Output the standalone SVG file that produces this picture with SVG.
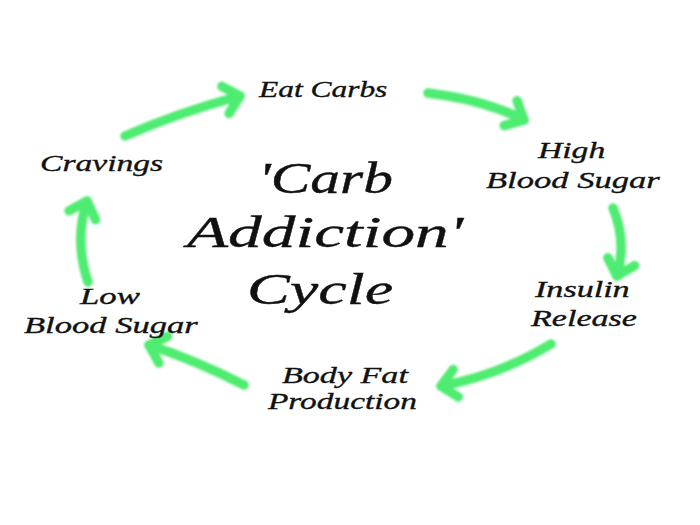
<svg xmlns="http://www.w3.org/2000/svg" width="700" height="525" viewBox="0 0 700 525">
<style>
.arr{fill:none;stroke:#4fec72;stroke-width:9.5;stroke-linecap:round;stroke-linejoin:round;marker-end:url(#head);}
.t{font-family:"Liberation Serif","Times New Roman",serif;font-style:italic;fill:#111;stroke:#111;stroke-width:0.35;}
.lbl{font-size:24px;}
.ttl{font-size:44px;}
</style>
<defs>
<marker id="head" markerUnits="userSpaceOnUse" viewBox="-22 -20 30 40" markerWidth="30" markerHeight="40" refX="0" refY="0" orient="auto">
<path d="M-15,-14 L0,0 L-15,14" fill="none" stroke="#4fec72" stroke-width="9.5" stroke-linecap="round" stroke-linejoin="round"/>
</marker>
<filter id="soft" x="-10%" y="-10%" width="120%" height="120%">
<feGaussianBlur stdDeviation="0.8"/>
</filter>
</defs>
<rect width="700" height="525" fill="#fff"/>
<g id="connectors" filter="url(#soft)">
<path class="arr" d="M125,136 Q180,112 240,96"/>
<path class="arr" d="M428,93 Q485,100 524,120"/>
<path class="arr" d="M613,208 Q627,242 617,276"/>
<path class="arr" d="M551,344 Q500,375 441,386"/>
<path class="arr" d="M244,385 Q195,360 149,345"/>
<path class="arr" d="M88,282 Q74,240 87,201"/>
</g>
<g id="title">
<text class="t ttl" transform="translate(258,193) scale(1.35,1)">'Carb</text>
<text class="t ttl" transform="translate(187,247) scale(1.53,1)">Addiction'</text>
<text class="t ttl" transform="translate(247,304) scale(1.46,1)">Cycle</text>
</g>
<g id="eat-carbs">
<text class="t lbl" transform="translate(259,97) scale(1.31,1)">Eat Carbs</text>
</g>
<g id="high-blood-sugar">
<text class="t lbl" transform="translate(538,158) scale(1.40,1)">High</text>
<text class="t lbl" transform="translate(486,188) scale(1.44,1)">Blood Sugar</text>
</g>
<g id="insulin-release">
<text class="t lbl" transform="translate(535,297) scale(1.42,1)">Insulin</text>
<text class="t lbl" transform="translate(531,326) scale(1.42,1)">Release</text>
</g>
<g id="body-fat-production">
<text class="t lbl" transform="translate(282,383) scale(1.42,1)">Body Fat</text>
<text class="t lbl" transform="translate(268,409) scale(1.39,1)">Production</text>
</g>
<g id="low-blood-sugar">
<text class="t lbl" transform="translate(80,304) scale(1.45,1)">Low</text>
<text class="t lbl" transform="translate(24,333) scale(1.44,1)">Blood Sugar</text>
</g>
<g id="cravings">
<text class="t lbl" transform="translate(40,171) scale(1.40,1)">Cravings</text>
</g>
</svg>
